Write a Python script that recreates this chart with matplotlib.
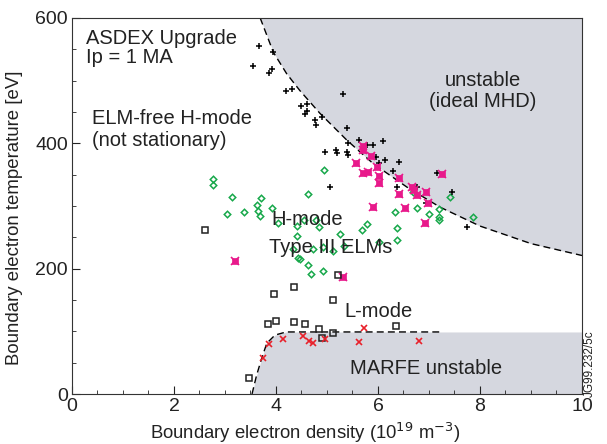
import matplotlib.pyplot as plt
import numpy as np

plt.rcParams['font.family'] = ['Liberation Sans', 'DejaVu Sans']

# ELM-free H-mode (black +)
elmfree_n = [3.67, 3.95, 3.54, 3.86, 3.93, 4.20, 4.31, 4.50, 4.60, 4.57, 4.61, 4.76, 4.90, 4.78,
             5.32, 5.39, 5.63, 5.41, 5.78, 5.91, 6.09, 4.96, 5.18, 5.20, 5.39, 5.42, 5.97, 6.14,
             6.01, 6.42, 6.29, 6.37, 5.05, 7.15, 6.77, 7.46, 6.95, 7.74]
elmfree_t = [555, 545, 524, 513, 518, 483, 486, 459, 463, 446, 451, 438, 442, 429,
             479, 425, 406, 401, 398, 397, 404, 386, 389, 385, 386, 382, 378, 373,
             368, 370, 356, 330, 330, 353, 330, 322, 304, 266]

# transition points (magenta)
trans_n = [5.71, 5.70, 5.86, 5.57, 5.99, 5.71, 5.81, 6.02, 6.02, 6.42, 6.42, 5.91, 6.53,
           7.25, 6.66, 6.70, 6.77, 6.94, 6.99, 6.92, 3.20, 5.32]
trans_t = [395, 390, 380, 369, 362, 352, 354, 348, 336, 345, 319, 299, 297,
           351, 330, 325, 317, 322, 304, 273, 212, 186]

# H-mode type III ELMs (green diamonds)
type3_n = [2.77, 2.77, 3.13, 3.03, 3.38, 3.71, 3.63, 3.65, 3.69, 3.92, 4.03, 4.41, 4.41, 4.43,
           4.63, 4.78, 4.85, 4.55, 5.25, 5.68, 5.79, 4.34, 4.73, 4.93, 5.11, 5.33, 4.48, 4.63,
           4.69, 4.93, 6.01, 4.94, 6.33, 6.38, 6.37, 6.76, 6.69, 7.41, 7.00, 7.20, 7.20, 7.20,
           7.86]
type3_t = [343, 333, 314, 287, 290, 312, 302, 292, 284, 297, 273, 268, 252, 217,
           319, 278, 266, 278, 256, 262, 272, 232, 232, 235, 228, 236, 216, 206,
           191, 197, 243, 357, 291, 265, 245, 297, 323, 315, 287, 296, 283, 277,
           283]

# L-mode (black squares)
lmode_n = [2.61, 5.22, 4.35, 3.96, 5.12, 3.85, 4.00, 4.35, 4.57, 4.85, 4.90, 5.12, 3.48, 6.35]
lmode_t = [261, 190, 170, 159, 150, 112, 116, 115, 112, 103, 89, 98, 25, 108]

# MARFE (red x)
marfe_pts_n = [3.74, 3.87, 4.13, 4.52, 4.65, 4.73, 4.96, 5.73, 5.63, 6.81]
marfe_pts_t = [57, 80, 88, 93, 85, 82, 88, 105, 83, 85]

# stability boundaries
mhd_n = [3.69, 3.95, 4.21, 4.47, 4.86, 5.39, 5.90, 6.57, 7.22, 8.0, 9.0, 10.0]
mhd_t = [600, 545, 511, 484, 448, 405, 368, 330, 298, 268, 240, 221]
marfe_n = [3.53, 3.62, 3.72, 3.82, 3.98, 4.2, 7.2, 10.0]
marfe_t = [0, 30, 57, 81, 94, 99, 99, 99]

grey = '#d5d7df'
ink = '#222222'

fig = plt.figure(figsize=(6.07, 4.44), dpi=100)
ax = fig.add_axes([0.1186, 0.1126, 0.8402, 0.8469])

ax.fill_between(mhd_n, mhd_t, 600, color=grey, lw=0, zorder=0)
ax.fill_between(marfe_n, 0, marfe_t, color=grey, lw=0, zorder=0)
ax.plot(mhd_n, mhd_t, color='black', ls=(0, (5, 3)), lw=1)
ax.plot(marfe_n[:-1], marfe_t[:-1], color='black', ls=(0, (5, 3)), lw=1)

ax.plot(type3_n, type3_t, ls='none', marker='D', ms=3.3, mfc='none', mec='#17a84a', mew=1.1)
ax.plot(elmfree_n, elmfree_t, ls='none', marker='+', ms=5, mec='black', mew=1.1)
ax.plot(trans_n, trans_t, ls='none', marker='s', ms=4.0, mfc='#e8198b', mec='#e8198b', mew=0.5)
ax.plot(trans_n, trans_t, ls='none', marker='x', ms=5.2, mec='#e8198b', mew=1.2)
ax.plot(lmode_n, lmode_t, ls='none', marker='s', ms=4.6, mfc='none', mec=ink, mew=1.1)
ax.plot(marfe_pts_n, marfe_pts_t, ls='none', marker='x', ms=5, mec='#e8202a', mew=1.2)

fs = 14.5
ax.text(0.27, 567, 'ASDEX Upgrade', fontsize=fs, va='center', color=ink)
ax.text(0.27, 537, 'Ip = 1 MA', fontsize=fs, va='center', color=ink)
ax.text(0.40, 440, 'ELM-free H-mode', fontsize=fs, va='center', color=ink)
ax.text(0.40, 405, '(not stationary)', fontsize=fs, va='center', color=ink)
ax.text(8.06, 500, 'unstable', fontsize=fs, va='center', ha='center', color=ink)
ax.text(8.06, 467, '(ideal MHD)', fontsize=fs, va='center', ha='center', color=ink)
ax.text(3.90, 279, 'H-mode', fontsize=fs, va='center', color=ink)
ax.text(3.87, 233, 'Type III ELMs', fontsize=fs, va='center', color=ink)
ax.text(5.35, 131, 'L-mode', fontsize=fs, va='center', color=ink)
ax.text(5.45, 41, 'MARFE unstable', fontsize=fs, va='center', color=ink)
fig.text(0.972, 0.18, 'JG99.232/5c', fontsize=8.5, rotation=90, ha='center', va='center',
         color=ink)

ax.set_xlim(0, 10)
ax.set_ylim(0, 600)
ax.set_xticks(np.arange(0, 11, 2))
ax.set_xticks(np.arange(0, 10.1, 0.5), minor=True)
ax.set_yticks(np.arange(0, 601, 200))
ax.set_yticks(np.arange(0, 601, 50), minor=True)
ax.tick_params(which='both', direction='in', labelsize=14, colors=ink, pad=3)
ax.tick_params(which='major', length=6)
ax.tick_params(which='minor', length=3)
for s in ax.spines.values():
    s.set_color('#333333')

ax.set_xlabel('Boundary electron density (10$^{19}$ m$^{-3}$)', fontsize=13.3, color=ink)
ax.set_ylabel('Boundary electron temperature [eV]', fontsize=13.4, color=ink)
ax.xaxis.set_label_coords(0.457, -0.072)
ax.yaxis.set_label_coords(-0.097, 0.47)

fig.savefig('out.png', dpi=100)
